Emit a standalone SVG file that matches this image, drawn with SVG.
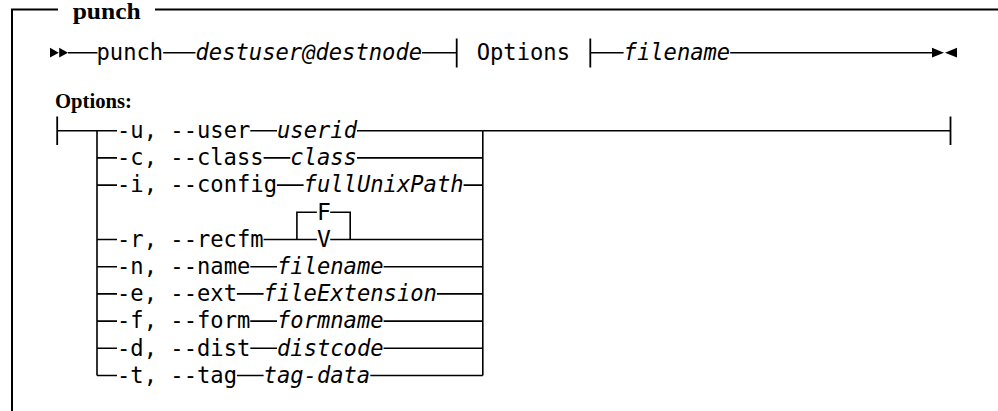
<svg xmlns="http://www.w3.org/2000/svg" width="998" height="411" viewBox="0 0 998 411">
  <style>
    .mono { font-family: "DejaVu Sans Mono", "Liberation Mono", monospace; font-size: 23px; fill: #000; }
    .var { font-style: italic; }
    .head { font-family: "Liberation Serif", "Times New Roman", serif; font-weight: bold; fill: #000; }
    .title { font-size: 24px; }
    .label { font-size: 22px; }
    .frame { stroke: #000; stroke-width: 2; fill: none; }
    .rail { stroke: #000; stroke-width: 1.6; fill: none; }
    .tick { stroke: #000; stroke-width: 1.8; fill: none; }
    .arrow { fill: #000; stroke: none; }
  </style>

  <!-- frame with title -->
  <g id="frame">
    <path class="frame" d="M12,411 V9.5 H58 M155,9.5 H998"/>
    <text class="head title" x="72.7" y="18.5" textLength="68" lengthAdjust="spacingAndGlyphs">punch</text>
  </g>

  <!-- connectors -->
  <g id="connectors">
    <!-- main line -->
    <path class="rail" d="M68,52.7 H97.5 M163.2,52.7 H195.5 M422.1,52.7 H456.7 M590.3,52.7 H623.6 M730.2,52.7 H932"/>
    <path class="tick" d="M456.7,38.5 V67.5 M590.3,38.5 V67.5"/>

    <!-- Options fragment: entry and exit -->
    <path class="tick" d="M57.2,116.5 V145 M950.5,116.5 V145"/>
    <path class="rail" d="M57.2,130.7 H117 M482.8,130.7 H950.5"/>
    <!-- choice columns -->
    <path class="rail" d="M97,130.7 V375.5 M482.8,130.7 V375.5"/>
    <!-- row stubs into the choices -->
    <path class="rail" d="M97,157.9 H117 M97,185.1 H117 M97,239.5 H117 M97,266.7 H117 M97,293.9 H117 M97,321.1 H117 M97,348.3 H117 M97,375.5 H117"/>
    <!-- option to value links and value to exit -->
    <path class="rail" d="M250.3,130.7 H277 M357,130.7 H482.8"/>
    <path class="rail" d="M263.6,157.9 H290.3 M357,157.9 H482.8"/>
    <path class="rail" d="M276.9,185.1 H303.6 M463.6,185.1 H482.8"/>
    <path class="rail" d="M263.6,239.5 H316.9 M330.2,239.5 H482.8"/>
    <path class="rail" d="M296.9,239.5 V212.3 H316.9 M330.2,212.3 H350.2 V239.5"/>
    <path class="rail" d="M250.3,266.7 H277 M383.6,266.7 H482.8"/>
    <path class="rail" d="M236.9,293.9 H263.6 M436.9,293.9 H482.8"/>
    <path class="rail" d="M250.3,321.1 H277 M383.6,321.1 H482.8"/>
    <path class="rail" d="M250.3,348.3 H277 M383.6,348.3 H482.8"/>
    <path class="rail" d="M236.9,375.5 H263.6 M370.3,375.5 H482.8"/>
  </g>

  <!-- main diagram -->
  <g id="start">
    <polygon class="arrow" points="50,47.8 58.8,52.7 50,57.6"/>
    <polygon class="arrow" points="59.2,47.8 68,52.7 59.2,57.6"/>
  </g>
  <g id="cmd-punch"><text class="mono" x="96.5" y="60" textLength="66.65" lengthAdjust="spacingAndGlyphs">punch</text></g>
  <g id="arg-dest"><text class="mono var" x="195.5" y="60" textLength="226.6" lengthAdjust="spacingAndGlyphs">destuser@destnode</text></g>
  <g id="ref-options"><text class="mono" x="476.7" y="60" textLength="93.3" lengthAdjust="spacingAndGlyphs">Options</text></g>
  <g id="arg-filename"><text class="mono var" x="623.6" y="60" textLength="106.6" lengthAdjust="spacingAndGlyphs">filename</text></g>
  <g id="end">
    <polygon class="arrow" points="932,47.8 944,52.7 932,57.6"/>
    <polygon class="arrow" points="957,47.8 945,52.7 957,57.6"/>
  </g>

  <!-- Options fragment -->
  <g id="options-label"><text class="head label" x="55" y="108" textLength="77" lengthAdjust="spacingAndGlyphs">Options:</text></g>

  <g id="opt-user">
    <text class="mono" x="117" y="138" textLength="133.3" lengthAdjust="spacingAndGlyphs">-u, --user</text>
    <text class="mono var" x="277" y="138" textLength="80" lengthAdjust="spacingAndGlyphs">userid</text>
  </g>
  <g id="opt-class">
    <text class="mono" x="117" y="165.2" textLength="146.6" lengthAdjust="spacingAndGlyphs">-c, --class</text>
    <text class="mono var" x="290.3" y="165.2" textLength="66.65" lengthAdjust="spacingAndGlyphs">class</text>
  </g>
  <g id="opt-config">
    <text class="mono" x="117" y="192.4" textLength="160" lengthAdjust="spacingAndGlyphs">-i, --config</text>
    <text class="mono var" x="303.6" y="192.4" textLength="160" lengthAdjust="spacingAndGlyphs">fullUnixPath</text>
  </g>
  <g id="opt-recfm">
    <text class="mono" x="117" y="246.8" textLength="146.6" lengthAdjust="spacingAndGlyphs">-r, --recfm</text>
    <text class="mono" x="316.9" y="219.6">F</text>
    <text class="mono" x="316.9" y="246.8">V</text>
  </g>
  <g id="opt-name">
    <text class="mono" x="117" y="274" textLength="133.3" lengthAdjust="spacingAndGlyphs">-n, --name</text>
    <text class="mono var" x="277" y="274" textLength="106.6" lengthAdjust="spacingAndGlyphs">filename</text>
  </g>
  <g id="opt-ext">
    <text class="mono" x="117" y="301.2" textLength="120" lengthAdjust="spacingAndGlyphs">-e, --ext</text>
    <text class="mono var" x="263.6" y="301.2" textLength="173.3" lengthAdjust="spacingAndGlyphs">fileExtension</text>
  </g>
  <g id="opt-form">
    <text class="mono" x="117" y="328.4" textLength="133.3" lengthAdjust="spacingAndGlyphs">-f, --form</text>
    <text class="mono var" x="277" y="328.4" textLength="106.6" lengthAdjust="spacingAndGlyphs">formname</text>
  </g>
  <g id="opt-dist">
    <text class="mono" x="117" y="355.6" textLength="133.3" lengthAdjust="spacingAndGlyphs">-d, --dist</text>
    <text class="mono var" x="277" y="355.6" textLength="106.6" lengthAdjust="spacingAndGlyphs">distcode</text>
  </g>
  <g id="opt-tag">
    <text class="mono" x="117" y="382.8" textLength="120" lengthAdjust="spacingAndGlyphs">-t, --tag</text>
    <text class="mono var" x="263.6" y="382.8" textLength="106.6" lengthAdjust="spacingAndGlyphs">tag-data</text>
  </g>
</svg>
